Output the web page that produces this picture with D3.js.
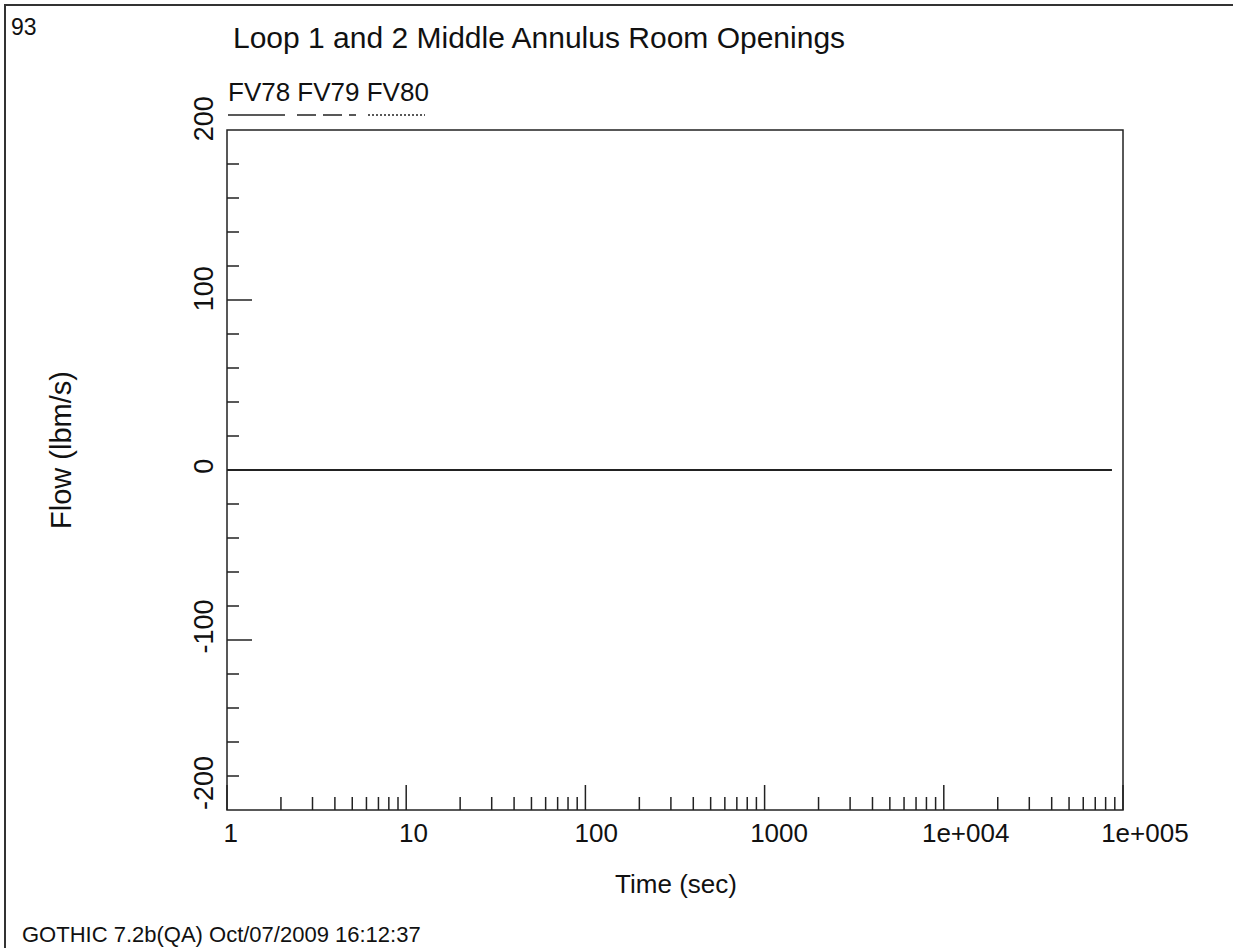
<!DOCTYPE html>
<html>
<head>
<meta charset="utf-8">
<script src="https://cdn.jsdelivr.net/npm/d3@7"></script>
<style>
    body { margin: 0; background: #ffffff; }
    text { font-family: "Liberation Sans", Arial, sans-serif; fill: #111111; }
</style>
</head>
<body>
<div id="chart"></div>
<script>
// data -- all three flow paths sit on zero the whole run
var seriesNames = ["FV78", "FV79", "FV80"];
var seriesDash = ["none", "19,7", "2,2"];
var time = [1, 86400];
var fv78 = [0, 0];
var fv79 = [0, 0];
var fv80 = [0, 0];
var xTickLabels = ["1", "10", "100", "1000", "1e+004", "1e+005"];
var yTickLabels = ["-200", "-100", "0", "100", "200"];

(function() {
    var W = 1233, H = 948;
    var plot = { left: 227, right: 1123, top: 130, bottom: 810 };

    var svg = d3.select("#chart")
        .append("svg")
        .attr("width", W)
        .attr("height", H);

    var x = d3.scaleLog()
        .domain([1, 1e5])
        .range([plot.left, plot.right]);

    var y = d3.scaleLinear()
        .domain([-200, 200])
        .range([plot.bottom, plot.top]);

    // page frame (only top + left show in the original)
    svg.append("path")
        .attr("d", "M5," + H + "V5H" + W)
        .attr("fill", "none")
        .attr("stroke", "#333")
        .attr("stroke-width", 2);

    svg.append("text")
        .attr("x", 11).attr("y", 35)
        .attr("font-size", 23)
        .text("93");

    svg.append("text")
        .attr("x", 233).attr("y", 48)
        .attr("font-size", 30)
        .text("Loop 1 and 2 Middle Annulus Room Openings");

    // legend: names in one row, line sample under each name
    var leg = svg.append("text")
        .attr("x", 228).attr("y", 101)
        .attr("font-size", 26)
        .attr("xml:space", "preserve")
        .text(seriesNames.join(" "));

    var legX = [228, 297, 368];
    var legW = [57, 59, 57];
    seriesNames.forEach(function(name, i) {
        svg.append("line")
            .attr("x1", legX[i]).attr("x2", legX[i] + legW[i])
            .attr("y1", 115).attr("y2", 115)
            .attr("stroke", "#222")
            .attr("stroke-width", 1.5)
            .attr("stroke-dasharray", seriesDash[i]);
    });

    // x axis ticks, pointing up into the plot
    var xMajor = xTickLabels.map(function(d) { return +d; });
    var xMinor = [];
    for (var dec = 1; dec < 1e5; dec *= 10) {
        for (var k = 2; k <= 9; k++) xMinor.push(dec * k);
    }
    svg.append("g").selectAll(".xminor")
        .data(xMinor)
        .enter().append("line")
        .attr("x1", function(d) { return x(d); })
        .attr("x2", function(d) { return x(d); })
        .attr("y1", plot.bottom).attr("y2", plot.bottom - 13)
        .attr("stroke", "#222").attr("stroke-width", 1.5);
    svg.append("g").selectAll(".xmajor")
        .data(xMajor)
        .enter().append("line")
        .attr("x1", function(d) { return x(d); })
        .attr("x2", function(d) { return x(d); })
        .attr("y1", plot.bottom).attr("y2", plot.bottom - 25)
        .attr("stroke", "#222").attr("stroke-width", 1.5);

    // gothic puts the label about a quarter of its width left of the tick
    svg.append("g").selectAll(".xlab")
        .data(xTickLabels)
        .enter().append("text")
        .attr("y", 842)
        .attr("font-size", 26)
        .text(function(d) { return d; })
        .attr("x", function(d) {
            return x(+d) - this.getComputedTextLength() / 4;
        });

    // y axis ticks, every 20, longer at the hundreds
    var yTicks = d3.range(-180, 200, 20);
    svg.append("g").selectAll(".ytick")
        .data(yTicks)
        .enter().append("line")
        .attr("x1", plot.left)
        .attr("x2", function(d) { return plot.left + (d % 100 === 0 ? 25 : 12); })
        .attr("y1", function(d) { return y(d); })
        .attr("y2", function(d) { return y(d); })
        .attr("stroke", "#222").attr("stroke-width", 1.5);

    // rotated y labels
    svg.append("g").selectAll(".ylab")
        .data(yTickLabels)
        .enter().append("text")
        .attr("font-size", 27)
        .text(function(d) { return d; })
        .attr("transform", function(d) {
            var len = this.getComputedTextLength();
            var start = y(+d) + len / 4;
            if (start > plot.bottom) start = plot.bottom; // don't run past the axis end
            return "translate(213," + start + ") rotate(-90)";
        });

    // series lines (they all overlap at zero)
    var allSeries = [fv78, fv79, fv80];
    var line = d3.line()
        .x(function(d, i) { return x(time[i]); })
        .y(function(d) { return y(d); });
    allSeries.slice().reverse().forEach(function(s, j) {
        var i = allSeries.length - 1 - j;
        svg.append("path")
            .datum(s)
            .attr("d", line)
            .attr("fill", "none")
            .attr("stroke", "#222")
            .attr("stroke-width", 2)
            .attr("stroke-dasharray", seriesDash[i]);
    });

    // plot box
    svg.append("rect")
        .attr("x", plot.left).attr("y", plot.top)
        .attr("width", plot.right - plot.left)
        .attr("height", plot.bottom - plot.top)
        .attr("fill", "none")
        .attr("stroke", "#222")
        .attr("stroke-width", 1.5);

    // axis titles
    svg.append("text")
        .attr("x", 676).attr("y", 893)
        .attr("text-anchor", "middle")
        .attr("font-size", 26)
        .text("Time (sec)");

    svg.append("text")
        .attr("transform", "translate(71,450) rotate(-90)")
        .attr("text-anchor", "middle")
        .attr("font-size", 29)
        .text("Flow (lbm/s)");

    svg.append("text")
        .attr("x", 22).attr("y", 942)
        .attr("font-size", 22)
        .text("GOTHIC 7.2b(QA) Oct/07/2009 16:12:37");
})();
</script>
</body>
</html>
